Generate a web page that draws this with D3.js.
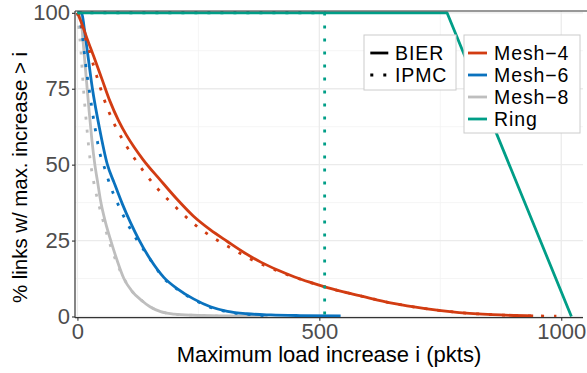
<!DOCTYPE html>
<html><head><meta charset="utf-8">
<script src="https://cdn.jsdelivr.net/npm/d3@7"></script>
<style>
html,body{margin:0;padding:0;background:#fff;}
text{font-family:"Liberation Sans",Arial,sans-serif;}
</style></head>
<body><svg id="c" width="587" height="373"></svg>
<script>
// ---- data ----
const xTicks = [0, 500, 1000];
const xMinor = [250, 750];
const yTicks = [0, 25, 50, 75, 100];
const yMinor = [12.5, 37.5, 62.5, 87.5];
const topologies = ["Mesh\u22124", "Mesh\u22126", "Mesh\u22128", "Ring"];
const colors = ["#d23c12", "#0a72be", "#bebebe", "#009e87"];
const schemes = ["BIER", "IPMC"];

const mesh4Bier = [[0,100],[10,96],[20,91.5],[34,85.5],[50,78.5],[67,71],[85,64.5],[101,59.8],[117,55.8],[136,51.6],[171,45],[206,38.6],[240,33],[275,28.5],[310,24.7],[345,21],[379,17.9],[415,15.2],[449,13],[480,11.3],[508,9.9],[550,8.1],[587,6.7],[650,4.4],[719,2.6],[789,1.3],[858,0.6],[942,0.2]];
const mesh4Ipmc = [[0,100],[8,96],[16,92],[24,87.8],[39,79.6],[47,75.5],[55,71.6],[64,67.8],[76,63.5],[88,59.8],[101,56.2],[116,52.5],[129,49.5],[164,42.4],[202,36.2],[240,30.6],[285,25.5],[331,21.3],[353,19.3],[377,17.5],[402,15.8],[426,14.2],[449,12.9],[508,9.9],[550,8.1],[587,6.7],[650,4.4],[719,2.6],[789,1.3],[858,0.6],[942,0.2],[990,0.1]];
const mesh6Bier = [[0,100],[9,100],[14,95],[20,88],[31,75],[45,62.5],[62,50],[76,44],[93,37],[110,30.8],[127,25.3],[150,19],[179,12.8],[206,9.2],[240,5.8],[275,3.2],[310,1.7],[350,0.9],[400,0.5],[460,0.3],[544,0.2]];
const mesh6Ipmc = [[0,100],[6,97],[12,90],[17,83],[24,75],[36,62.5],[46,54],[57,48.5],[68,43],[81,38],[103,30.7],[124,25],[141,21],[160,16.5],[179,12.5],[206,9],[240,5.6],[275,3],[310,1.5],[350,0.7],[400,0.2]];
const mesh8Bier = [[0,100],[6,100],[12,90],[18,79],[24,68],[30,58],[36,50],[42,44],[48,38],[58,31],[69,25],[82,18.5],[96,12.5],[113,8.3],[131,5.5],[150,3.2],[172,1.6],[200,0.8],[240,0.4],[300,0.2],[393,0.1]];
const mesh8Ipmc = [[0,100],[3,95],[7,88],[12,76],[19,63],[26,52],[34,44],[44,37],[54,31],[64,25.5],[78,19],[96,12.5],[113,8.3],[131,5.5],[150,3.2],[172,1.6],[200,0.8],[240,0.4],[300,0.1]];
const ringBier = [[0,100],[764,100],[1021,0]];
const ringIpmc = [[0,100],[511,100],[511,0]];

const series = [
  {topo:2, scheme:0, pts:mesh8Bier, smooth:true},
  {topo:2, scheme:1, pts:mesh8Ipmc, smooth:true},
  {topo:1, scheme:0, pts:mesh6Bier, smooth:true},
  {topo:1, scheme:1, pts:mesh6Ipmc, smooth:true},
  {topo:0, scheme:0, pts:mesh4Bier, smooth:true},
  {topo:0, scheme:1, pts:mesh4Ipmc, smooth:true},
  {topo:3, scheme:1, pts:ringIpmc, smooth:false},
  {topo:3, scheme:0, pts:ringBier, smooth:false}
];

// ---- chart ----
const svg = d3.select("#c");
const L = 75, R = 583, T = 11, B = 317.7;
const x = d3.scaleLinear().domain([-5, 1045]).range([L, R]);
const y = d3.scaleLinear().domain([-0.4, 100.6]).range([B, T]);

const grid = svg.append("g");
xMinor.forEach(v => grid.append("line").attr("x1", x(v)).attr("x2", x(v)).attr("y1", T).attr("y2", B).attr("stroke", "#f2f2f2").attr("stroke-width", 0.8));
yMinor.forEach(v => grid.append("line").attr("x1", L).attr("x2", R).attr("y1", y(v)).attr("y2", y(v)).attr("stroke", "#f2f2f2").attr("stroke-width", 0.8));
xTicks.forEach(v => grid.append("line").attr("x1", x(v)).attr("x2", x(v)).attr("y1", T).attr("y2", B).attr("stroke", "#ebebeb").attr("stroke-width", 1.3));
yTicks.forEach(v => grid.append("line").attr("x1", L).attr("x2", R).attr("y1", y(v)).attr("y2", y(v)).attr("stroke", "#ebebeb").attr("stroke-width", 1.3));

const lineS = d3.line().x(d => x(d[0])).y(d => y(d[1])).curve(d3.curveMonotoneX);
const lineL = d3.line().x(d => x(d[0])).y(d => y(d[1]));
const plot = svg.append("g");
series.forEach(s => {
  plot.append("path")
    .attr("d", (s.smooth ? lineS : lineL)(s.pts))
    .attr("fill", "none")
    .attr("stroke", colors[s.topo])
    .attr("stroke-width", 2.8)
    .attr("stroke-linejoin", "round")
    .attr("stroke-dasharray", s.scheme === 1 ? "3,10" : null)
    .attr("stroke-linecap", "butt");
});

// axes
const xAxis = d3.axisBottom(x).tickValues(xTicks).tickFormat(d3.format("d")).tickSize(3).tickPadding(3);
const gx = svg.append("g").attr("transform", `translate(0,${B})`).call(xAxis);
gx.select(".domain").attr("stroke", "#333").attr("stroke-width", 1.2).attr("d", `M${L},0H${R}`);
gx.selectAll(".tick line").attr("stroke", "#333").attr("stroke-width", 1.1);
gx.selectAll(".tick text").attr("fill", "#4d4d4d").attr("font-size", 22).attr("font-family", "Liberation Sans, Arial, sans-serif");

const yAxis = d3.axisLeft(y).tickValues(yTicks).tickFormat(d3.format("d")).tickSize(3).tickPadding(2);
const gy = svg.append("g").attr("transform", `translate(${L},0)`).call(yAxis);
gy.select(".domain").attr("stroke", "#333").attr("stroke-width", 1.2).attr("d", `M0,${T}V${B}`);
gy.selectAll(".tick line").attr("stroke", "#333").attr("stroke-width", 1.1);
gy.selectAll(".tick text").attr("fill", "#4d4d4d").attr("font-size", 22).attr("font-family", "Liberation Sans, Arial, sans-serif");

// top border line
svg.append("line").attr("x1", L).attr("x2", 587).attr("y1", T).attr("y2", T).attr("stroke", "#333").attr("stroke-width", 1.2);

// titles
svg.append("text").attr("x", 329).attr("y", 362).attr("text-anchor", "middle").attr("font-size", 22).attr("fill", "#000").text("Maximum load increase i (pkts)");
svg.append("text").attr("transform", "translate(27,177.5) rotate(-90)").attr("text-anchor", "middle").attr("font-size", 20.4).attr("fill", "#000").text("% links w/ max. increase > i");

// legends
const lfs = 19.5, lls = 0.9;
const lg1 = svg.append("g");
lg1.append("rect").attr("x", 364).attr("y", 35).attr("width", 92).attr("height", 55).attr("fill", "#fff").attr("stroke", "#cccccc").attr("stroke-width", 1);
schemes.forEach((s, i) => {
  const cy = 53 + i * 22;
  lg1.append("line").attr("x1", 370.3).attr("x2", 388.3).attr("y1", cy).attr("y2", cy).attr("stroke", "#000").attr("stroke-width", 2.8).attr("stroke-dasharray", i === 1 ? "3,10" : null);
  lg1.append("text").attr("x", 395).attr("y", cy).attr("dy", "0.36em").attr("font-size", lfs).attr("letter-spacing", lls).attr("fill", "#000").text(s);
});
const lg2 = svg.append("g");
lg2.append("rect").attr("x", 464).attr("y", 35).attr("width", 116).attr("height", 98).attr("fill", "#fff").attr("stroke", "#cccccc").attr("stroke-width", 1);
topologies.forEach((t, i) => {
  const cy = 53 + i * 22;
  lg2.append("line").attr("x1", 468).attr("x2", 487).attr("y1", cy).attr("y2", cy).attr("stroke", colors[i]).attr("stroke-width", 2.8);
  lg2.append("text").attr("x", 494).attr("y", cy).attr("dy", "0.36em").attr("font-size", lfs).attr("letter-spacing", lls).attr("fill", "#000").text(t);
});
</script>
</body></html>
